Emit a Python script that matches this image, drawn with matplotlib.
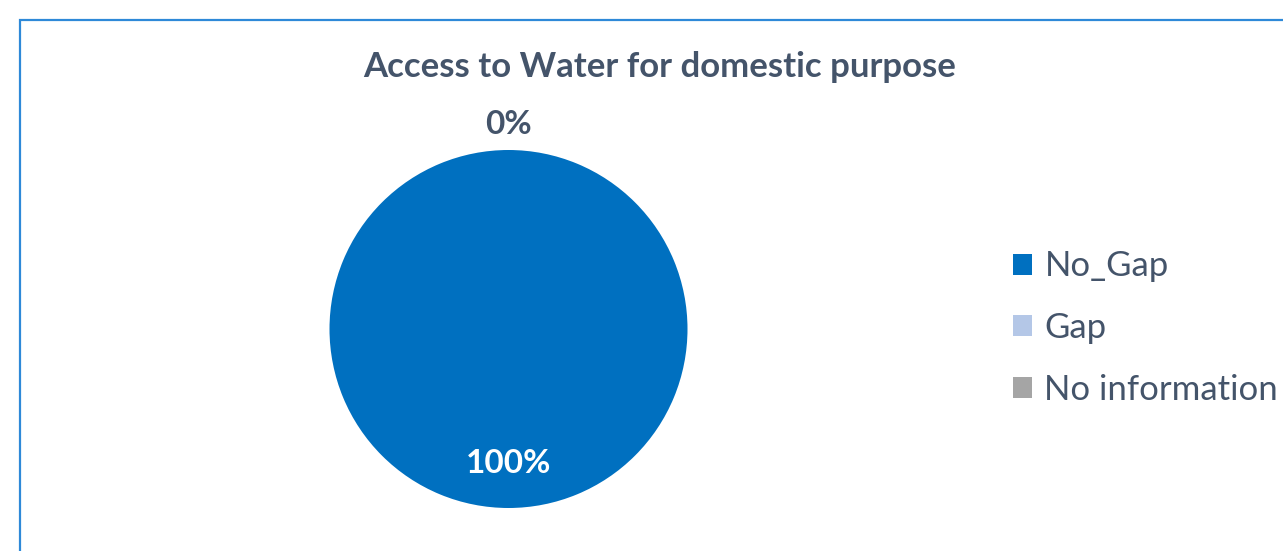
import matplotlib.pyplot as plt
from matplotlib.patches import Rectangle
import numpy as np

# Data
categories = ['No_Gap', 'Gap', 'No information']
values = [100, 0, 0]
colors = ['#0070c0', '#b4c7e7', '#a5a5a5']

W, H = 1283, 551
plt.rcParams['font.family'] = ['Lato', 'DejaVu Sans']
text_col = '#44546a'

fig = plt.figure(figsize=(W / 100, H / 100), dpi=100)

# chart border (only top/left visible in the crop)
fig.patches.append(Rectangle((20 / W, -0.05), 1.1, (H - 20) / H + 0.05,
                             transform=fig.transFigure, fill=False,
                             edgecolor='#2e89d8', linewidth=1.6))

# pie axes placed in pixel terms
cx, cy, r = 508.5, 329, 179
ax = fig.add_axes([(cx - r) / W, (H - cy - r) / H, 2 * r / W, 2 * r / H])
wedges, _ = ax.pie(values, colors=colors, startangle=90, counterclock=False,
                   radius=1, wedgeprops=dict(linewidth=0))
ax.set_xlim(-1, 1)
ax.set_ylim(-1, 1)
ax.set_aspect('auto')
ax.axis('off')

total = sum(values)
shown_zero = False
for w, v in zip(wedges, values):
    mid = np.deg2rad((w.theta1 + w.theta2) / 2)
    pct = f'{v / total * 100:.0f}%'
    if v > 0:
        ax.text(0.75 * np.cos(mid), 0.75 * np.sin(mid), pct, ha='center',
                va='center', color='white', fontsize=24, fontweight='bold')
    elif not shown_zero:
        ax.text(1.14 * np.cos(mid), 1.14 * np.sin(mid), pct, ha='center',
                va='center', color=text_col, fontsize=24, fontweight='bold',
                clip_on=False)
        shown_zero = True

fig.text(660 / W, 1 - 67 / H, 'Access to Water for domestic purpose',
         ha='center', va='center', fontsize=25, fontweight='bold', color=text_col)

leg = fig.legend(wedges, categories, loc='center left',
                 bbox_to_anchor=(982 / W, 1 - 328 / H), frameon=False,
                 fontsize=25, handlelength=0.55, handleheight=0.55,
                 handletextpad=0.35, labelspacing=0.85, labelcolor=text_col)

fig.savefig('out.png', dpi=100)
